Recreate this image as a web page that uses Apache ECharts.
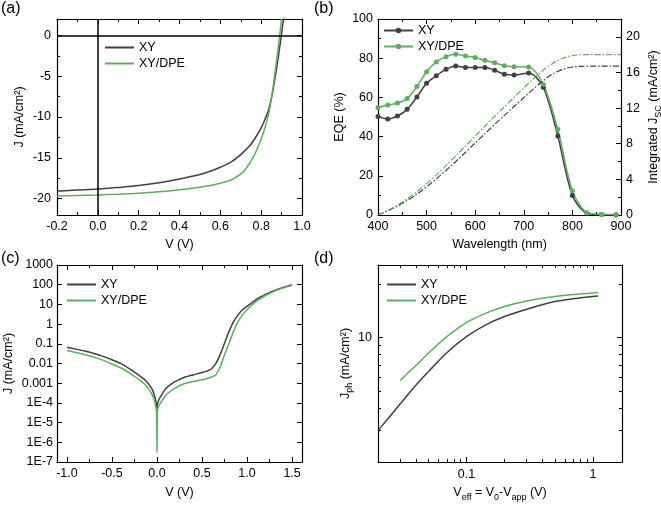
<!DOCTYPE html>
<html><head><meta charset="utf-8">
<script src="https://cdn.jsdelivr.net/npm/echarts@6/dist/echarts.min.js"></script>
<style>html,body{margin:0;padding:0;background:#fff}#c{width:661px;height:505px}</style>
</head><body><div id="c"></div><script>
// ---------------- DATA ----------------
// (a) J-V under illumination
const aXY_V  = [-0.2,-0.1,0,0.1,0.2,0.3,0.4,0.5,0.55,0.6,0.65,0.7,0.745,0.77,0.794,0.81,0.827,0.84,0.851,0.86,0.87,0.88,0.89,0.9,0.91];
const aXY_J  = [-19.08,-18.95,-18.83,-18.63,-18.4,-18.05,-17.6,-17.05,-16.65,-16.15,-15.55,-14.6,-13.5,-12.6,-11.6,-10.8,-9.8,-8.8,-7.6,-6.4,-4.9,-3.3,-1.6,0.2,2.1];
const aDPE_V = [-0.2,-0.1,0,0.1,0.2,0.3,0.4,0.5,0.55,0.6,0.65,0.7,0.72,0.745,0.77,0.794,0.81,0.827,0.84,0.851,0.863,0.875,0.888,0.9];
const aDPE_J = [-19.67,-19.6,-19.54,-19.45,-19.33,-19.15,-18.9,-18.6,-18.4,-18.1,-17.75,-17.0,-16.5,-15.6,-14.5,-13.1,-12.0,-10.6,-9.2,-7.6,-5.5,-3.2,-0.6,2.0];
const aXTicks = [-0.2,0,0.2,0.4,0.6,0.8,1.0];
const aXMinor = [-0.1,0.1,0.3,0.5,0.7,0.9];
const aYTicks = [-20,-15,-10,-5,0];
const aYMinor = [-17.5,-12.5,-7.5,-2.5];

// (b) EQE and integrated Jsc
const bWl      = [400,420,440,460,480,500,520,540,560,580,600,620,640,660,680,710,740,770,800,830,860,890];
const bEqeXY   = [50.3,49.0,50.5,53.9,60.2,67.2,71.1,74.3,76.0,75.3,75.2,75.2,73.8,71.8,71.4,72.4,65.2,40.3,9.9,0.9,0.2,0.0];
const bEqeDPE  = [54.9,56.1,57.1,59.4,65.5,73.1,78.1,80.8,82.0,81.1,80.3,78.9,77.7,76.2,75.7,75.5,66.7,43.7,12.4,1.2,0.3,0.2];
const bJscWl   = [400,420,440,460,480,500,520,540,560,580,600,620,640,660,680,700,720,740,760,780,800,820,840,860,880,900];
const bJscXY   = [0,0.47,1.00,1.62,2.34,3.17,4.06,5.01,6.01,7.04,8.08,9.13,10.17,11.18,12.18,13.18,14.16,15.08,15.84,16.35,16.61,16.69,16.7,16.7,16.7,16.7];
const bJscDPE  = [0,0.52,1.12,1.82,2.62,3.52,4.50,5.54,6.63,7.74,8.86,9.97,11.07,12.15,13.21,14.27,15.30,16.25,17.04,17.59,17.89,17.99,18.0,18.0,18.0,18.0];
const bXTicks = [400,500,600,700,800,900];
const bXMinor = [450,550,650,750,850];
const bYTicks = [0,20,40,60,80,100];
const bYMinor = [10,30,50,70,90];
const bY2Ticks = [0,4,8,12,16,20];
const bY2Minor = [2,6,10,14,18];

// (c) dark J-V (log)
const cV   = [-1.0,-0.9,-0.8,-0.7,-0.6,-0.5,-0.4,-0.3,-0.2,-0.15,-0.1,-0.05,-0.02,-0.005,0,0.005,0.02,0.05,0.1,0.15,0.2,0.3,0.4,0.5,0.55,0.6,0.65,0.7,0.75,0.8,0.85,0.9,0.95,1.0,1.1,1.2,1.3,1.4,1.5];
const cXY  = [0.0676,0.0537,0.0427,0.032,0.0231,0.0155,0.00977,0.00525,0.00251,0.0017,0.001,4.57e-4,1.74e-4,8e-5,4e-5,7.9e-5,1.41e-4,2.5e-4,5.5e-4,8.5e-4,1.2e-3,1.95e-3,2.63e-3,3.47e-3,4.1e-3,5.1e-3,9.5e-3,0.0275,0.107,0.427,1.35,2.95,5.37,7.94,17.4,30.9,49,72.4,100];
const cDPE = [0.0457,0.0363,0.028,0.0209,0.0148,0.0095,0.00589,0.00316,0.00153,0.00102,5.6e-4,2.5e-4,9.5e-5,3.2e-5,3e-7,4e-5,7e-5,1.17e-4,2.5e-4,3.9e-4,5.5e-4,9.3e-4,1.2e-3,1.48e-3,1.7e-3,2.0e-3,2.5e-3,6.5e-3,0.0275,0.107,0.427,1.35,2.95,5.37,14.1,27.5,45.7,69,93];
const cXTicks = [-1,-0.5,0,0.5,1,1.5];
const cXMinor = [-0.75,-0.25,0.25,0.75,1.25];
const cYTicks = [1e-7,1e-6,1e-5,1e-4,1e-3,1e-2,1e-1,1,10,100,1000];

// (d) Jph vs Veff (log-log)
const dXY_V  = [0.02,0.03,0.04,0.05,0.07,0.1,0.14,0.2,0.3,0.5,0.7,1.1];
const dXY_J  = [3.0,4.24,5.41,6.42,8.2,10.1,11.7,13.1,14.4,15.9,16.5,17.1];
const dDPE_V = [0.03,0.04,0.052,0.07,0.1,0.14,0.2,0.3,0.45,0.7,1.1];
const dDPE_J = [5.74,6.98,8.36,10.1,12.1,13.6,14.9,16.0,16.8,17.4,17.9];
const dXTicks = [0.1,1];
const dXMinor = [0.03,0.04,0.05,0.06,0.07,0.08,0.09,0.2,0.3,0.4,0.5,0.6,0.7,0.8,0.9];
const dYTicks = [10];
const dYMinor = [3,4,5,6,7,8,9,20];

// ---------------- CHART ----------------
const FF = '"Liberation Sans", Arial, Helvetica, sans-serif';
const C_XY = '#404040', C_DPE = '#5daf5d';
const zip = (a, b) => a.map((v, i) => [v, b[i]]);

const xAxes = [], yAxes = [];
const nameStyle = {fontSize: 12.5, color: '#000', fontFamily: FF, lineHeight: 18,
  rich: {sub: {fontSize: 9, lineHeight: 9, verticalAlign: 'bottom', color: '#000', fontFamily: FF}}};
function addAxis(list, c) {
  const base = {type: c.type || 'value', gridIndex: c.grid, position: c.pos, min: c.min, max: c.max,
    splitLine: {show: false}, minorTick: {show: false}, minorSplitLine: {show: false}};
  const idx = list.length;
  list.push(Object.assign({}, base, {
    axisLine: {show: true, onZero: false, lineStyle: {color: '#000', width: 1.2}},
    axisTick: {show: true, inside: true, length: 5, customValues: c.major, lineStyle: {color: '#000', width: 1}},
    axisLabel: {show: !!c.labels, customValues: c.major, formatter: c.fmt, margin: c.margin || 5,
      color: '#000', fontSize: 12.5, fontFamily: FF},
    name: c.name || '', nameLocation: 'middle', nameGap: c.nameGap || 0, nameTextStyle: nameStyle
  }));
  if (c.minor && c.minor.length) {
    list.push(Object.assign({}, base, {
      axisLine: {show: false, onZero: false},
      axisTick: {show: true, inside: true, length: 3, customValues: c.minor, lineStyle: {color: '#000', width: 1}},
      axisLabel: {show: false}
    }));
  }
  return idx;
}
const f1 = v => (+v).toFixed(1);
const fInt = v => String(Math.round(v));
const fLogC = v => { const e = Math.round(Math.log10(v)); return e >= -3 ? String(Number(Math.pow(10, e).toFixed(Math.max(0, -e)))) : '1E' + e; };
const fLogD = v => String(+(+v).toPrecision(1));

const grids = [
  {left: 57, top: 19, width: 245, height: 196},
  {left: 378, top: 19, width: 243, height: 196},
  {left: 57, top: 265, width: 245, height: 197},
  {left: 378, top: 265, width: 244, height: 197}
].map(g => Object.assign(g, {containLabel: false, outerBoundsMode: 'none'}));

// (a)
const ax = addAxis(xAxes, {grid: 0, pos: 'bottom', min: -0.2, max: 1.0, major: aXTicks, minor: aXMinor, labels: true, fmt: f1, name: 'V (V)', nameGap: 21});
addAxis(xAxes, {grid: 0, pos: 'top', min: -0.2, max: 1.0, major: aXTicks, minor: aXMinor});
const ay = addAxis(yAxes, {grid: 0, pos: 'left', min: -22, max: 2, major: aYTicks, minor: aYMinor, labels: true, fmt: fInt, margin: 6, name: 'J (mA/cm²)', nameGap: 19});
addAxis(yAxes, {grid: 0, pos: 'right', min: -22, max: 2, major: aYTicks, minor: aYMinor});
// (b)
const bx = addAxis(xAxes, {grid: 1, pos: 'bottom', min: 400, max: 900, major: bXTicks, minor: bXMinor, labels: true, fmt: fInt, name: 'Wavelength (nm)', nameGap: 21});
addAxis(xAxes, {grid: 1, pos: 'top', min: 400, max: 900, major: bXTicks, minor: bXMinor});
const by = addAxis(yAxes, {grid: 1, pos: 'left', min: 0, max: 100, major: bYTicks, minor: bYMinor, labels: true, fmt: fInt, name: 'EQE (%)', nameGap: 27});
const by2 = addAxis(yAxes, {grid: 1, pos: 'right', min: 0, max: 22, major: bY2Ticks, minor: bY2Minor, labels: true, fmt: fInt, name: 'Integrated J{sub|SC} (mA/cm²)', nameGap: 24});
// (c)
const cx = addAxis(xAxes, {grid: 2, pos: 'bottom', min: -1.11, max: 1.61, major: cXTicks, minor: cXMinor, labels: true, fmt: f1, name: 'V (V)', nameGap: 22});
addAxis(xAxes, {grid: 2, pos: 'top', min: -1.11, max: 1.61, major: cXTicks, minor: cXMinor});
const cy = addAxis(yAxes, {grid: 2, pos: 'left', type: 'log', min: 1e-7, max: 1000, major: cYTicks, labels: true, fmt: fLogC, margin: 4, name: 'J (mA/cm²)', nameGap: 36});
addAxis(yAxes, {grid: 2, pos: 'right', type: 'log', min: 1e-7, max: 1000, major: cYTicks});
// (d)
const dx = addAxis(xAxes, {grid: 3, pos: 'bottom', type: 'log', min: 0.02, max: 1.7, major: dXTicks, minor: dXMinor, labels: true, fmt: fLogD, margin: 6, name: 'V{sub|eff} = V{sub|0}-V{sub|app} (V)', nameGap: 22});
addAxis(xAxes, {grid: 3, pos: 'top', type: 'log', min: 0.02, max: 1.7, major: dXTicks, minor: dXMinor});
const dy = addAxis(yAxes, {grid: 3, pos: 'left', type: 'log', min: 2, max: 25.5, major: dYTicks, minor: dYMinor, labels: true, fmt: fLogD, margin: 6, name: 'J{sub|ph} (mA/cm²)', nameGap: 22});
addAxis(yAxes, {grid: 3, pos: 'right', type: 'log', min: 2, max: 25.5, major: dYTicks, minor: dYMinor});

const lineS = (name, xi, yi, data, color, extra) => Object.assign({
  name, type: 'line', xAxisIndex: xi, yAxisIndex: yi, data, symbol: 'none', smooth: 0.3,
  lineStyle: {color, width: 1.5}, itemStyle: {color}, z: 3
}, extra || {});

const series = [
  lineS('a:XY', ax, ay, zip(aXY_V, aXY_J), C_XY, {
    markLine: {silent: true, symbol: 'none', label: {show: false}, animation: false,
      lineStyle: {color: '#000', width: 1.5, type: 'solid'}, data: [{xAxis: 0}, {yAxis: 0}]}}),
  lineS('a:XY/DPE', ax, ay, zip(aDPE_V, aDPE_J), C_DPE),
  lineS('b:XY', bx, by, zip(bWl, bEqeXY), C_XY, {symbol: 'circle', symbolSize: 5, showSymbol: true}),
  lineS('b:XY/DPE', bx, by, zip(bWl, bEqeDPE), C_DPE, {symbol: 'circle', symbolSize: 5, showSymbol: true}),
  lineS('b:JscXY', bx, by2, zip(bJscWl, bJscXY), C_XY, {lineStyle: {color: C_XY, width: 1.2, type: [6, 2, 1.5, 2]}}),
  lineS('b:JscDPE', bx, by2, zip(bJscWl, bJscDPE), C_DPE, {lineStyle: {color: C_DPE, width: 1.2, type: [6, 2, 1.5, 2]}}),
  lineS('c:XY', cx, cy, zip(cV, cXY), C_XY, {smooth: 0.2}),
  lineS('c:XY/DPE', cx, cy, zip(cV, cDPE), C_DPE, {smooth: 0.2}),
  lineS('d:XY', dx, dy, zip(dXY_V, dXY_J), C_XY),
  lineS('d:XY/DPE', dx, dy, zip(dDPE_V, dDPE_J), C_DPE)
];

const legBase = {orient: 'vertical', itemWidth: 29, itemGap: 3, formatter: n => n.slice(2),
  textStyle: {fontSize: 12.5, color: '#000', fontFamily: FF}, selectedMode: false, padding: 0};
const legends = [
  Object.assign({}, legBase, {left: 105, top: 41, data: ['a:XY', 'a:XY/DPE'], icon: 'rect', itemHeight: 2}),
  Object.assign({}, legBase, {left: 383, top: 24, data: ['b:XY', 'b:XY/DPE'], itemHeight: 7, itemGap: 3}),
  Object.assign({}, legBase, {left: 67, top: 278, data: ['c:XY', 'c:XY/DPE'], icon: 'rect', itemHeight: 2}),
  Object.assign({}, legBase, {left: 387, top: 278, data: ['d:XY', 'd:XY/DPE'], icon: 'rect', itemHeight: 2})
];

const lab = (t, x, y) => ({type: 'text', left: x, top: y, style: {text: t, font: '16px ' + FF, fill: '#000'}});

const chart = echarts.init(document.getElementById('c'), null, {renderer: 'canvas'});
chart.setOption({
  animation: false,
  backgroundColor: '#fff',
  textStyle: {fontFamily: FF},
  grid: grids, xAxis: xAxes, yAxis: yAxes, series, legend: legends,
  graphic: [lab('(a)', 1, 1), lab('(b)', 314, 1), lab('(c)', 1, 251), lab('(d)', 314, 251)]
});
</script></body></html>
